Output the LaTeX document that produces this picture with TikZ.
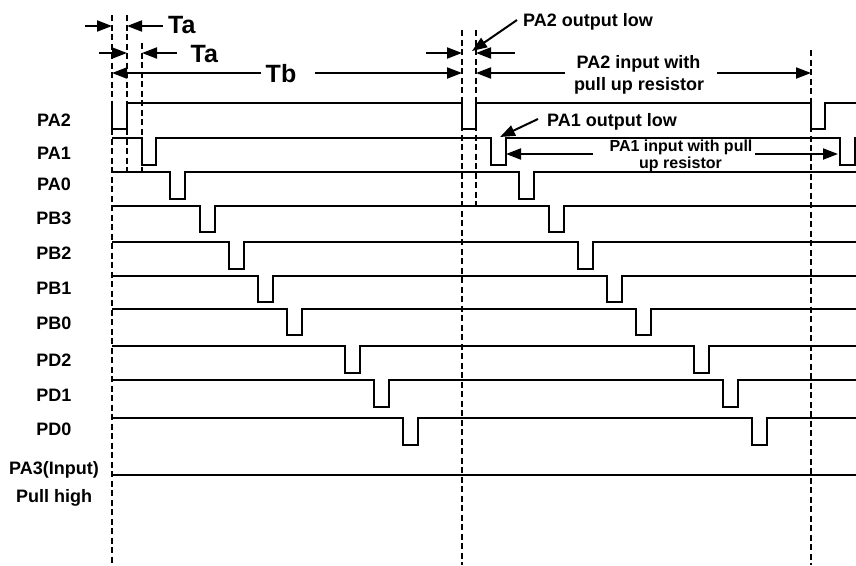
\documentclass[tikz,border=0pt]{standalone}
\usepackage{fontspec}
\setmainfont{Liberation Sans}
\usetikzlibrary{arrows.meta}
\begin{document}
\begin{tikzpicture}[x=1pt,y=-1pt,
  sig/.style={line width=2pt, line join=miter},
  guide/.style={line width=2pt, dash pattern=on 6pt off 3.5pt},
  arr/.style={line width=2pt, -{Triangle[length=15pt,width=11pt]}},
  lab/.style={font=\fontsize{18}{20}\selectfont\bfseries, anchor=base, inner sep=0pt},
  note/.style={font=\fontsize{18}{20}\selectfont\bfseries, inner sep=0pt},
  smallnote/.style={font=\fontsize{16}{18}\selectfont\bfseries, inner sep=0pt},
  bignote/.style={font=\fontsize{25}{27}\selectfont\bfseries, inner sep=0pt}
]
\useasboundingbox (0,0) rectangle (856,565);

% ---- dashed guide lines
\coordinate (g1t) at (112,15);  \coordinate (g1b) at (112,565);
\coordinate (g2t) at (127,15);  \coordinate (g2b) at (127,172);
\coordinate (g3t) at (142,43);  \coordinate (g3b) at (142,172);
\coordinate (g4t) at (462,30);  \coordinate (g4b) at (462,565);
\coordinate (g5t) at (476,30);  \coordinate (g5b) at (476,205);
\coordinate (g6t) at (811,50);  \coordinate (g6b) at (811,565);
\foreach \i in {1,...,6} \draw[guide] (g\i t) -- (g\i b);

% ---- signal labels
\node[lab] (lPA2) at (54,126) {PA2};
\node[lab] (lPA1) at (54,159) {PA1};
\node[lab] (lPA0) at (54,190.5) {PA0};
\node[lab] (lPB3) at (54,224.7) {PB3};
\node[lab] (lPB2) at (54,259) {PB2};
\node[lab] (lPB1) at (54,294) {PB1};
\node[lab] (lPB0) at (54,329.7) {PB0};
\node[lab] (lPD2) at (54,366.4) {PD2};
\node[lab] (lPD1) at (54,401.4) {PD1};
\node[lab] (lPD0) at (54,435.7) {PD0};
\node[lab] (lPA3) at (54,474.4) {PA3(Input)};
\node[lab] (lPH) at (54,502) {Pull high};

% ---- PA2
\draw[sig] (112,103) -- (112,128.5) -- (127,128.5) -- (127,103) -- (462,103)
  -- (462,128.5) -- (476,128.5) -- (476,103) -- (811,103) -- (811,128.5)
  -- (825,128.5) -- (825,103) -- (856,103);
% ---- PA1
\draw[sig] (112,138) -- (142,138) -- (142,165) -- (156,165) -- (156,138)
  -- (490.5,138) -- (490.5,165) -- (505.5,165) -- (505.5,138) -- (840,138)
  -- (840,165) -- (855,165) -- (855,138) -- (856,138);
% ---- scanned lines
\foreach \y/\a/\b in {172/170/519, 205.5/199.5/548.5, 242/228.5/577.5,
  275.5/257.5/606.5, 308.5/286.5/636, 346/344.5/694, 380/373.5/723, 418/403/752}
  \draw[sig] (112,\y) -- (\a,\y) -- ++(0,26.5) -- ++(15,0) -- ++(0,-26.5)
    -- (\b,\y) -- ++(0,26.5) -- ++(15,0) -- ++(0,-26.5) -- (856,\y);
% ---- PA3
\draw[sig] (112,475) -- (856,475);

% ---- Ta / Tb dimensions
\coordinate (r1a) at (85,26);   \coordinate (r1b) at (112,26);
\coordinate (r1c) at (163,26);  \coordinate (r1d) at (127,26);
\coordinate (r2a) at (99,53);   \coordinate (r2b) at (127,53);
\coordinate (r2c) at (177,53);  \coordinate (r2d) at (142,53);
\coordinate (r3a) at (261,73);  \coordinate (r3b) at (112,73);
\coordinate (r3c) at (315,73);  \coordinate (r3d) at (462,73);
\draw[arr] (r1a) -- (r1b);
\draw[arr] (r1c) -- (r1d);
\draw[arr] (r2a) -- (r2b);
\draw[arr] (r2c) -- (r2d);
\draw[arr] (r3a) -- (r3b);
\draw[arr] (r3c) -- (r3d);
\node[bignote, anchor=base west] (ta1) at (168,33.5) {Ta};
\node[bignote, anchor=base west] (ta2) at (190.5,62) {Ta};
\node[bignote, anchor=base] (tb) at (281,82) {Tb};

% ---- second period dimensions
\coordinate (s2a) at (426,53);  \coordinate (s2b) at (462,53);
\coordinate (s2c) at (515,53);  \coordinate (s2d) at (476,53);
\coordinate (s3a) at (565,73);  \coordinate (s3b) at (476,73);
\coordinate (s3c) at (717,73);  \coordinate (s3d) at (811,73);
\draw[arr] (s2a) -- (s2b);
\draw[arr] (s2c) -- (s2d);
\draw[arr] (s3a) -- (s3b);
\draw[arr] (s3c) -- (s3d);
\node[note, anchor=base] (pa2in1) at (638.5,68) {PA2 input with};
\node[note, anchor=base] (pa2in2) at (639,90) {pull up resistor};

% ---- PA2 output low
\node[note, anchor=base west] (pa2out) at (523,26) {PA2 output low};
\coordinate (o2a) at (517,20); \coordinate (o2b) at (472,51);
\draw[arr] (o2a) -- (o2b);

% ---- PA1 output low
\node[note, anchor=base west] (pa1out) at (547,126) {PA1 output low};
\coordinate (o1a) at (538,119); \coordinate (o1b) at (500,137);
\draw[arr] (o1a) -- (o1b);

% ---- PA1 input with pull up resistor
\node[smallnote, anchor=base] (pa1in1) at (681,151) {PA1 input with pull};
\node[smallnote, anchor=base] (pa1in2) at (680.5,168) {up resistor};
\coordinate (i1a) at (593,154); \coordinate (i1b) at (506,154);
\coordinate (i1c) at (755,154); \coordinate (i1d) at (838,154);
\draw[arr] (i1a) -- (i1b);
\draw[arr] (i1c) -- (i1d);
\end{tikzpicture}
\end{document}
